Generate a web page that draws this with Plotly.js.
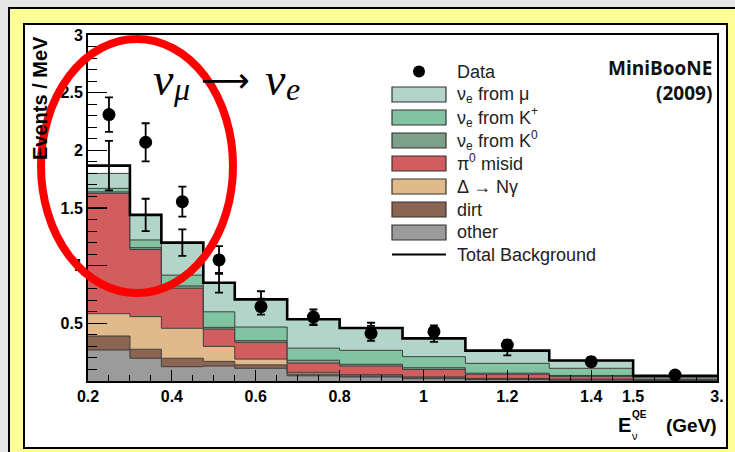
<!DOCTYPE html>
<html><head><meta charset="utf-8">
<script src="https://cdn.plot.ly/plotly-3.0.1.min.js"></script>
<style>
html,body{margin:0;padding:0;width:735px;height:452px;overflow:hidden;background:#e6e6e6;}
#outer{position:absolute;left:8px;top:7px;width:760px;height:480px;background:#ffff99;border:2px solid #000;box-sizing:border-box;}
#inner{position:absolute;left:23px;top:23px;width:705px;height:426px;background:#fff;border:2px solid #000;box-sizing:border-box;}
#chart{position:absolute;left:0;top:0;width:735px;height:452px;}
</style></head><body>
<div id="outer"></div><div id="inner"></div><div id="chart"></div>
<script>
// ---- data (Events / MeV per E_nu^QE bin) ----
const binEdgesGeV = [0.2, 0.3, 0.375, 0.475, 0.55, 0.675, 0.8, 0.95, 1.1, 1.3, 1.5, 3.0];
const other   = [0.269, 0.197, 0.124, 0.130, 0.110, 0.045, 0.035, 0.020, 0.012, 0.008, 0.003];
const dirt    = [0.121, 0.078, 0.073, 0.040, 0.030, 0.015, 0.010, 0.008, 0.006, 0.004, 0.001];
const deltaNg = [0.194, 0.283, 0.260, 0.130, 0.050, 0.015, 0.010, 0.007, 0.004, 0.004, 0.001];
const pi0     = [1.043, 0.582, 0.347, 0.150, 0.145, 0.080, 0.075, 0.065, 0.036, 0.024, 0.007];
const nueK0   = [0.013, 0.016, 0.020, 0.015, 0.015, 0.025, 0.015, 0.015, 0.010, 0.008, 0.016];
const nueKp   = [0.030, 0.067, 0.094, 0.135, 0.118, 0.105, 0.121, 0.096, 0.085, 0.062, 0.012];
const nueMu   = [0.130, 0.217, 0.282, 0.252, 0.240, 0.250, 0.194, 0.159, 0.110, 0.068, 0.006];
const totalBg = [1.867, 1.440, 1.200, 0.852, 0.708, 0.535, 0.460, 0.370, 0.263, 0.178, 0.046];
const bgErr   = [0.215, 0.140, 0.115, 0.085, 0.070, 0.050, 0.045, 0.030, 0.040, 0.030, 0.010];
const dataVal = [2.310, 2.070, 1.555, 1.050, 0.645, 0.555, 0.413, 0.428, 0.312, 0.167, 0.052];
const dataErr = [0.150, 0.165, 0.130, 0.120, 0.070, 0.065, 0.065, 0.055, 0.045, 0.035, 0.012];
const xTickGeV   = [0.2, 0.4, 0.6, 0.8, 1.0, 1.2, 1.4, 1.5, 3.0];
const xTickText  = ['0.2', '0.4', '0.6', '0.8', '1', '1.2', '1.4', '1.5', '3.'];
const yTickVals  = [0.5, 1, 1.5, 2, 2.5, 3];
const yTickText  = ['0.5', '1', '1.5', '2', '2.5', '3'];

// legend labels as [main, sub, rest, sup, tail]
const layers = [
  {lab: ['other', '', '', '', ''], vals: other, color: '#9b9b9b'},
  {lab: ['dirt', '', '', '', ''], vals: dirt, color: '#8b6452'},
  {lab: ['Δ → Nγ', '', '', '', ''], vals: deltaNg, color: '#e0ba8a'},
  {lab: ['π', '', '', '0', 'misid'], vals: pi0, color: '#d15d5f'},
  {lab: ['ν', 'e', 'from K', '0', ''], vals: nueK0, color: '#7e9f89'},
  {lab: ['ν', 'e', 'from K', '+', ''], vals: nueKp, color: '#82c4a2'},
  {lab: ['ν', 'e', 'from μ', '', ''], vals: nueMu, color: '#b3d4c8'}
];

// compressed display scale above 1.5 GeV (as on the original axis)
function disp(e) { return e <= 1.5 ? e : 1.5 + (e - 1.5) * (0.2 / 1.5); }
const xEdges = binEdgesGeV.map(disp);
const xCent = binEdgesGeV.slice(0, -1).map((e, i) => disp((e + binEdgesGeV[i + 1]) / 2));
function stepY(arr) { return arr.concat([arr[arr.length - 1]]); }

const traces = [];
let cum = new Array(other.length).fill(0);
layers.forEach((L, k) => {
  cum = cum.map((c, i) => c + L.vals[i]);
  traces.push({
    type: 'scatter', mode: 'lines', x: xEdges, y: stepY(cum),
    line: {shape: 'hv', color: '#3c3c3c', width: 1},
    fill: k === 0 ? 'tozeroy' : 'tonexty', fillcolor: L.color,
    hoverinfo: 'skip', showlegend: false
  });
});
traces.push({
  type: 'scatter', mode: 'lines', x: xEdges, y: stepY(totalBg),
  line: {shape: 'hv', color: '#000', width: 2.6}, showlegend: false, hoverinfo: 'skip'
});
traces.push({
  type: 'scatter', mode: 'markers', x: xCent, y: totalBg,
  marker: {size: 1, color: 'rgba(0,0,0,0)'},
  error_y: {type: 'data', array: bgErr, color: '#000', thickness: 1.8, width: 4},
  showlegend: false, hoverinfo: 'skip'
});
traces.push({
  type: 'scatter', mode: 'markers', x: xCent, y: dataVal,
  marker: {size: 13, color: '#000'},
  error_y: {type: 'data', array: dataErr, color: '#000', thickness: 1.8, width: 4},
  showlegend: false
});

// pixel helpers for overlay items (plot area 88..717 x 35..381)
const L0 = 88, R0 = 717, T0 = 35, B0 = 381;
const px = v => (v - L0) / (R0 - L0);
const py = v => (B0 - v) / (B0 - T0);

const shapes = [];
const annotations = [];
const SANS = 'Liberation Sans', SERIF = 'Liberation Serif';
const ctx = document.createElement('canvas').getContext('2d');
function measure(p) {
  ctx.font = (p.it ? 'italic ' : '') + (p.b ? 'bold ' : '') + p.size + 'px "' + p.fam + '"';
  return ctx.measureText(p.t).width;
}
function note(x, y, text, font, xa, extra) {
  return Object.assign({xref: 'paper', yref: 'paper', x: px(x), y: py(y), xanchor: xa || 'left', yanchor: 'middle',
    text: text, showarrow: false, borderpad: 0, borderwidth: 0, font: font}, extra || {});
}
// text made of separately sized pieces (sub/superscripts as own pieces)
function rich(x0, yMid, parts) {
  let x = x0;
  parts.forEach(p => {
    if (!p.t) return;
    x += p.gap || 0;
    let txt = p.t;
    if (p.b) txt = '<b>' + txt + '</b>';
    if (p.it) txt = '<i>' + txt + '</i>';
    annotations.push(note(x, yMid + (p.dy || 0), txt, {family: p.fam, size: p.size, color: p.color || '#000'}));
    x += measure(p);
  });
  return x;
}
// legend
const legRowY = i => 71.5 + 23 * i;
const LG = {fam: SANS, size: 18, color: '#222'};
const spaceW = measure(Object.assign({t: ' '}, LG));
shapes.push({type: 'circle', xref: 'paper', yref: 'paper', x0: px(413), x1: px(425), y0: py(legRowY(0) + 6), y1: py(legRowY(0) - 6), fillcolor: '#000', line: {width: 0}});
rich(457, legRowY(0), [Object.assign({t: 'Data'}, LG)]);
layers.slice().reverse().forEach((Lg, i) => {
  const yc = legRowY(i + 1);
  shapes.push({type: 'rect', xref: 'paper', yref: 'paper', x0: px(392), x1: px(446), y0: py(yc + 7.5), y1: py(yc - 7.5), fillcolor: Lg.color, line: {color: '#333', width: 1.2}});
  const [main, sub, rest, sup, tail] = Lg.lab;
  rich(457, yc, [
    Object.assign({}, LG, {t: main}),
    Object.assign({}, LG, {t: sub, size: 12, dy: 5}),
    Object.assign({}, LG, {t: rest, gap: spaceW}),
    Object.assign({}, LG, {t: sup, size: 12, dy: -6}),
    Object.assign({}, LG, {t: tail, gap: spaceW})
  ]);
});
const yTot = legRowY(8) - 1;
shapes.push({type: 'line', xref: 'paper', yref: 'paper', x0: px(392), x1: px(446), y0: py(yTot), y1: py(yTot), line: {color: '#000', width: 2}});
rich(457, yTot, [Object.assign({t: 'Total Background'}, LG)]);

// labels
annotations.push(note(712, 68, '<b>MiniBooNE</b>', {family: 'Open Sans', size: 19, color: '#111'}, 'right'));
annotations.push(note(712, 93, '<b>(2009)</b>', {family: 'Open Sans', size: 19, color: '#111'}, 'right'));
annotations.push(note(40, 36, '<b>Events / MeV</b>', {family: SANS, size: 20, color: '#000'}, 'center', {yanchor: 'top', textangle: -90}));
// x-axis title: E with stacked super/subscript, then (GeV)
annotations.push(note(631, 425, '<b>E</b>', {family: SANS, size: 20, color: '#000'}, 'right'));
annotations.push(note(632, 414, '<b>QE</b>', {family: SANS, size: 10, color: '#000'}, 'left'));
annotations.push(note(632, 436, 'ν', {family: SANS, size: 11, color: '#000'}, 'left'));
annotations.push(note(717, 425, '<b>(GeV)</b>', {family: SANS, size: 19, color: '#000'}, 'right'));
// formula nu_mu -> nu_e
rich(153, 80, [
  {t: 'ν', fam: SERIF, size: 46, it: true},
  {t: 'μ', fam: SERIF, size: 32, it: true, dy: 9},
  {t: '⟶', fam: 'DejaVu Sans', size: 34, gap: 12},
  {t: 'ν', fam: SERIF, size: 46, it: true, gap: 15},
  {t: 'e', fam: SERIF, size: 32, it: true, dy: 9}
]);

// red ellipse
shapes.push({type: 'circle', xref: 'paper', yref: 'paper', layer: 'above', x0: px(41), x1: px(233), y0: py(293), y1: py(39), line: {color: '#ff0000', width: 8}});

const tickLab = t => '<span style="font-size:16px;font-weight:bold">' + t + '</span>';
const layout = {
  width: 735, height: 452,
  font: {family: SANS, size: 16, color: '#000'},
  margin: {l: L0, r: 735 - R0, t: T0, b: 452 - B0},
  paper_bgcolor: 'rgba(0,0,0,0)', plot_bgcolor: '#fff',
  showlegend: false,
  xaxis: {
    range: [0.2, 1.7], tickmode: 'array', tickvals: xTickGeV.map(disp), ticktext: xTickText.map(tickLab),
    ticks: 'inside', ticklen: 11, tickwidth: 1.2, tickcolor: '#000',
    minor: {tickmode: 'linear', tick0: 0.2, dtick: 0.05, ticks: 'inside', ticklen: 6, tickwidth: 1, tickcolor: '#000'},
    showline: true, linewidth: 2, linecolor: '#000', mirror: true,
    showgrid: false, zeroline: false, tickfont: {family: SANS, size: 16, color: '#000'}
  },
  yaxis: {
    range: [0, 3], tickmode: 'array', tickvals: yTickVals, ticktext: yTickText.map(tickLab),
    ticks: 'inside', ticklen: 19, tickwidth: 1.2, tickcolor: '#000',
    minor: {tickmode: 'linear', tick0: 0, dtick: 0.1, ticks: 'inside', ticklen: 9, tickwidth: 1, tickcolor: '#000'},
    showline: true, linewidth: 2, linecolor: '#000', mirror: true,
    showgrid: false, zeroline: false, tickfont: {family: SANS, size: 16, color: '#000'}
  },
  shapes: shapes,
  annotations: annotations
};
Plotly.newPlot('chart', traces, layout, {staticPlot: true});
</script>
</body></html>
